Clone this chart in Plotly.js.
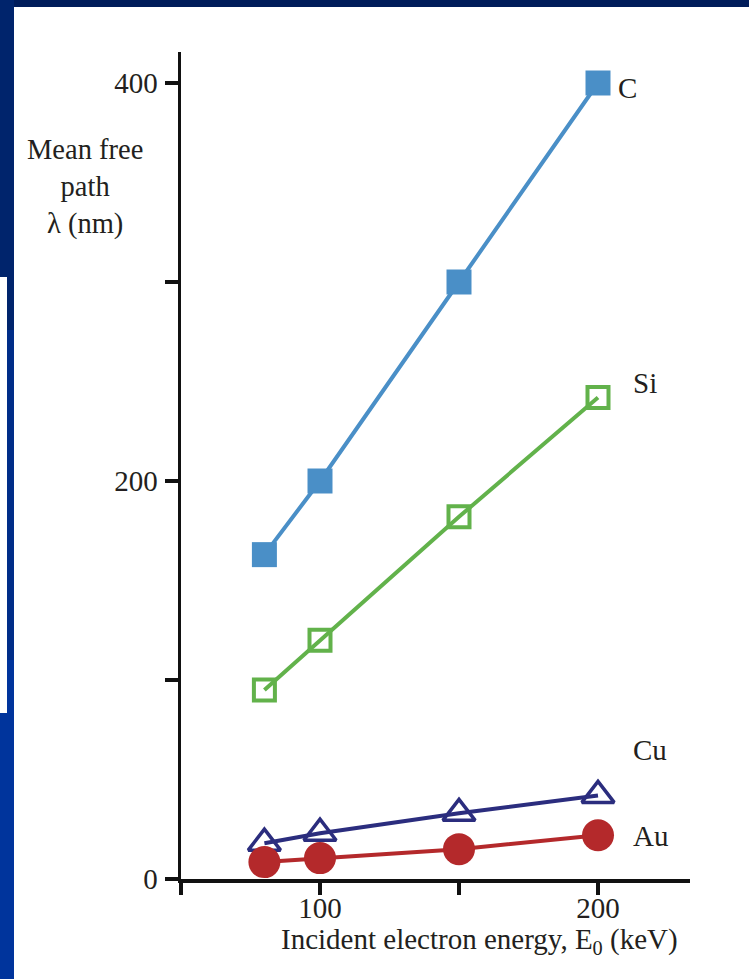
<!DOCTYPE html>
<html>
<head>
<meta charset="utf-8">
<script src="https://cdn.plot.ly/plotly-3.0.1.min.js"></script>
<style>
html,body{margin:0;padding:0;background:#fff;}
#chart{width:749px;height:979px;}
</style>
</head>
<body>
<div id="chart"></div>
<script>
// Data
const energies = [80, 100, 150, 200];           // Incident electron energy E0 (keV)
const mfpC  = [163, 200, 300, 400];             // Mean free path (nm), carbon
const mfpSi = [95, 120, 182, 242];              // silicon
const mfpCu = [18, 23, 33, 42];                 // copper
const mfpAu = [8.5, 10.5, 15, 22];              // gold
const seriesNames = ['C', 'Si', 'Cu', 'Au'];
const xTickVals = [50, 100, 150, 200];
const xTickText = [' ', '100', ' ', '200'];
const yTickVals = [0, 100, 200, 300, 400];
const yTickText = ['0', ' ', '200', ' ', '400'];

const W = 749, H = 979, ML = 181, MR = 59, MT = 52, MB = 100;
const PW = W - ML - MR, PH = H - MT - MB;
const px = v => (v - ML) / PW;
const py = v => (H - MB - v) / PH;

const serif = "'Liberation Serif', 'Times New Roman', serif";
const ink = '#231f20';

const traces = [
  {x: energies, y: mfpC, name: seriesNames[0], mode: 'lines+markers',
   line: {color: '#4a8fc7', width: 4},
   marker: {symbol: 'square', size: 25, color: '#4a8fc7'}},
  {x: energies, y: mfpSi, name: seriesNames[1], mode: 'lines+markers',
   line: {color: '#62b24b', width: 4},
   marker: {symbol: 'square-open', size: 21, color: '#62b24b', line: {width: 4, color: '#62b24b'}}},
  {x: energies, y: mfpCu, name: seriesNames[2], mode: 'lines+markers',
   line: {color: '#2b2d7e', width: 4},
   marker: {symbol: 'triangle-up-open', size: 28, color: '#2b2d7e', line: {width: 3.5, color: '#2b2d7e'}}},
  {x: energies, y: mfpAu, name: seriesNames[3], mode: 'lines+markers',
   line: {color: '#b4292b', width: 4},
   marker: {symbol: 'circle', size: 32, color: '#b4292b'}}
];

const labelPos = [[206.5, 397.5], [211.8, 249], [211.8, 65], [211.8, 21.6]];

const annotations = seriesNames.map((n, i) => ({
  x: labelPos[i][0], y: labelPos[i][1], xref: 'x', yref: 'y',
  text: n, showarrow: false, xanchor: 'left', yanchor: 'middle',
  font: {family: serif, size: 29, color: ink}
}));
annotations.push({
  xref: 'paper', yref: 'paper', x: px(85), y: py(187),
  text: 'Mean free<br>path<br>λ (nm)', showarrow: false,
  xanchor: 'center', yanchor: 'middle', align: 'center',
  font: {family: serif, size: 28.5, color: ink}
});
annotations.push({
  xref: 'paper', yref: 'paper', x: px(479), y: py(941),
  text: 'Incident electron energy, E<sub>0</sub> (keV)', showarrow: false,
  xanchor: 'center', yanchor: 'middle',
  font: {family: serif, size: 29, color: ink}
});

const shapes = [
  {type: 'rect', xref: 'paper', yref: 'paper', x0: px(0), x1: px(W), y0: py(0), y1: py(7),
   fillcolor: '#001c5a', line: {width: 0}, layer: 'below'},
  {type: 'rect', xref: 'paper', yref: 'paper', x0: px(0), x1: px(14), y0: py(0), y1: py(330),
   fillcolor: '#00246c', line: {width: 0}, layer: 'below'},
  {type: 'rect', xref: 'paper', yref: 'paper', x0: px(0), x1: px(14), y0: py(330), y1: py(660),
   fillcolor: '#002d88', line: {width: 0}, layer: 'below'},
  {type: 'rect', xref: 'paper', yref: 'paper', x0: px(0), x1: px(14), y0: py(660), y1: py(H),
   fillcolor: '#00349c', line: {width: 0}, layer: 'below'},
  {type: 'rect', xref: 'paper', yref: 'paper', x0: px(0), x1: px(7), y0: py(277), y1: py(713),
   fillcolor: '#ffffff', line: {width: 0}, layer: 'below'}
];

const layout = {
  width: W, height: H,
  margin: {l: ML, r: MR, t: MT, b: MB, pad: 0},
  paper_bgcolor: '#ffffff', plot_bgcolor: '#ffffff',
  showlegend: false,
  font: {family: serif, size: 29, color: ink},
  xaxis: {
    range: [50, 50 + PW / 2.78], showgrid: false, zeroline: false,
    showline: true, linecolor: '#111', linewidth: 3.5,
    ticks: 'outside', ticklen: 12, tickwidth: 3.5, tickcolor: '#111',
    tickvals: xTickVals, ticktext: xTickText, ticklabelstandoff: -11,
    tickfont: {family: serif, size: 29, color: ink}
  },
  yaxis: {
    range: [0, PH / 1.99], showgrid: false, zeroline: false,
    showline: true, linecolor: '#111', linewidth: 3.5,
    ticks: 'outside', ticklen: 13, tickwidth: 3.5, tickcolor: '#111',
    tickvals: yTickVals, ticktext: yTickText, ticklabelstandoff: 1,
    tickfont: {family: serif, size: 29, color: ink}
  },
  annotations: annotations,
  shapes: shapes
};

Plotly.newPlot('chart', traces, layout, {displayModeBar: false, staticPlot: true});
</script>
</body>
</html>
